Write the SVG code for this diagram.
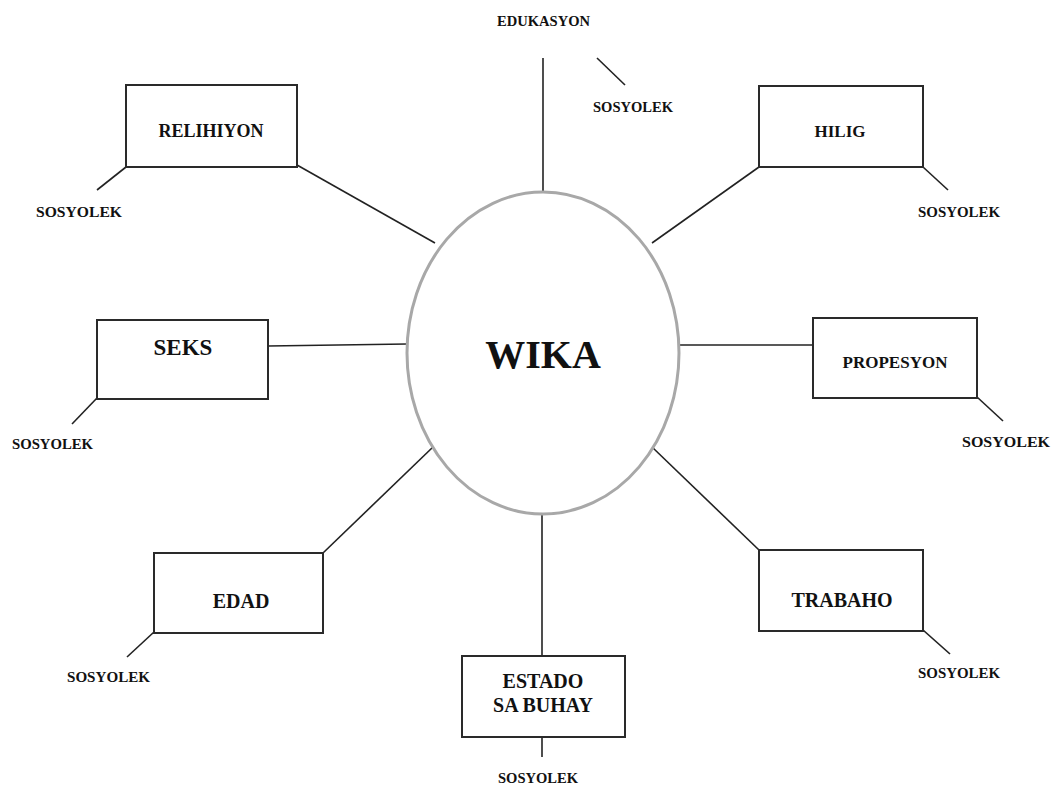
<svg xmlns="http://www.w3.org/2000/svg" width="1055" height="785" viewBox="0 0 1055 785">
<style>
.box{fill:#fff;stroke:#2a2a2a;stroke-width:2}
.lbl{font-family:"Liberation Serif","Times New Roman",serif;font-weight:bold;fill:#111;text-anchor:middle}
.sos{font-family:"Liberation Serif","Times New Roman",serif;font-weight:bold;font-size:15px;fill:#111}
.ln{stroke:#222;stroke-width:1.6;fill:none}
</style>
<rect width="1055" height="785" fill="#fff"/>
<g id="connectors">
<line class="ln" x1="543" y1="58" x2="543" y2="192"/>
<line class="ln" x1="297" y1="165" x2="435" y2="243"/>
<line class="ln" x1="759" y1="167" x2="652" y2="243"/>
<line class="ln" x1="268" y1="346" x2="407" y2="344"/>
<line class="ln" x1="678" y1="345" x2="813" y2="345"/>
<line class="ln" x1="323" y1="553" x2="433" y2="447"/>
<line class="ln" x1="759" y1="550" x2="652" y2="447"/>
<line class="ln" x1="542" y1="514" x2="542" y2="656"/>
<line class="ln" x1="597" y1="58" x2="625" y2="85"/>
<line class="ln" x1="126" y1="167" x2="97" y2="190"/>
<line class="ln" x1="923" y1="167" x2="948" y2="190"/>
<line class="ln" x1="97" y1="398" x2="72" y2="424"/>
<line class="ln" x1="977" y1="397" x2="1003" y2="421"/>
<line class="ln" x1="154" y1="632" x2="127" y2="657"/>
<line class="ln" x1="923" y1="630" x2="950" y2="654"/>
<line class="ln" x1="542" y1="737" x2="542" y2="757"/>
</g>
<g id="wika">
<ellipse cx="543" cy="353" rx="136" ry="161" fill="#fff" stroke="#a8a8a8" stroke-width="3"/>
<text class="lbl" x="543" y="368" font-size="40">WIKA</text>
</g>
<g id="edukasyon">
<text class="sos" x="497" y="26" textLength="93" lengthAdjust="spacingAndGlyphs">EDUKASYON</text>
<text class="sos" x="593" y="112" textLength="80" lengthAdjust="spacingAndGlyphs">SOSYOLEK</text>
</g>
<g id="relihiyon">
<rect class="box" x="126" y="85" width="171" height="82"/>
<text class="lbl" x="211" y="137" font-size="18">RELIHIYON</text>
<text class="sos" x="36" y="217" textLength="86" lengthAdjust="spacingAndGlyphs">SOSYOLEK</text>
</g>
<g id="hilig">
<rect class="box" x="759" y="86" width="164" height="81"/>
<text class="lbl" x="840" y="137" font-size="17">HILIG</text>
<text class="sos" x="918" y="217" textLength="82" lengthAdjust="spacingAndGlyphs">SOSYOLEK</text>
</g>
<g id="seks">
<rect class="box" x="97" y="320" width="171" height="79"/>
<text class="lbl" x="183" y="355" font-size="23">SEKS</text>
<text class="sos" x="12" y="449" textLength="81" lengthAdjust="spacingAndGlyphs">SOSYOLEK</text>
</g>
<g id="propesyon">
<rect class="box" x="813" y="318" width="164" height="80"/>
<text class="lbl" x="895" y="368" font-size="17">PROPESYON</text>
<text class="sos" x="962" y="447" textLength="88" lengthAdjust="spacingAndGlyphs">SOSYOLEK</text>
</g>
<g id="edad">
<rect class="box" x="154" y="553" width="169" height="80"/>
<text class="lbl" x="241" y="608" font-size="20">EDAD</text>
<text class="sos" x="67" y="682" textLength="83" lengthAdjust="spacingAndGlyphs">SOSYOLEK</text>
</g>
<g id="trabaho">
<rect class="box" x="759" y="550" width="164" height="81"/>
<text class="lbl" x="842" y="607" font-size="20">TRABAHO</text>
<text class="sos" x="918" y="678" textLength="82" lengthAdjust="spacingAndGlyphs">SOSYOLEK</text>
</g>
<g id="estado">
<rect class="box" x="462" y="656" width="163" height="81" stroke="#666"/>
<text class="lbl" x="543" y="688" font-size="20">ESTADO</text>
<text class="lbl" x="543" y="712" font-size="20">SA BUHAY</text>
<text class="sos" x="498" y="783" textLength="80" lengthAdjust="spacingAndGlyphs">SOSYOLEK</text>
</g>
</svg>
